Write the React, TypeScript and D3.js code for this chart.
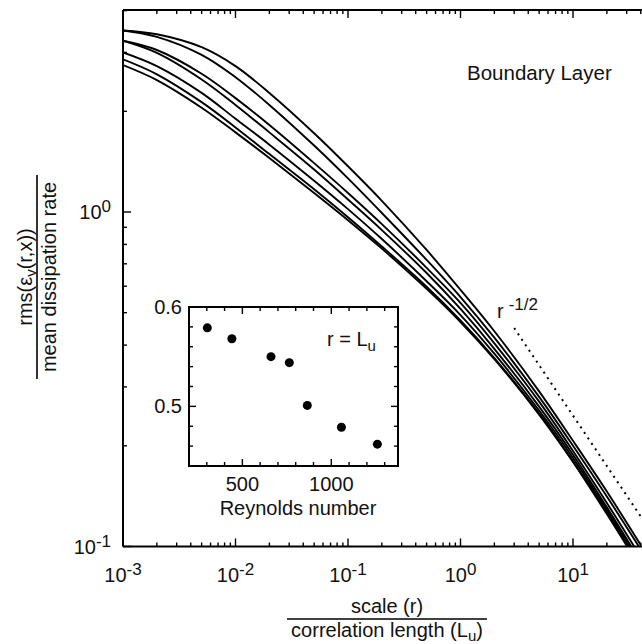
import * as d3 from 'd3';

// main panel: scale r / L_u  vs  rms / mean dissipation, one curve per Reynolds number
const scaleR = [0.001, 0.002, 0.005, 0.01, 0.02, 0.05, 0.1, 0.2, 0.5, 1, 2, 5, 10, 20, 40];
const curveA = [3.49, 3.40, 3.11, 2.73, 2.27, 1.72, 1.37, 1.08, 0.770, 0.585, 0.440, 0.291, 0.207, 0.146, 0.101];
const curveB = [3.49, 3.34, 2.95, 2.53, 2.09, 1.58, 1.26, 0.993, 0.719, 0.557, 0.421, 0.280, 0.200, 0.141, 0.098];
const curveC = [3.25, 3.05, 2.59, 2.19, 1.82, 1.40, 1.14, 0.920, 0.681, 0.535, 0.405, 0.271, 0.193, 0.135, 0.093];
const curveD = [3.25, 2.99, 2.49, 2.09, 1.73, 1.34, 1.09, 0.883, 0.657, 0.513, 0.390, 0.262, 0.188, 0.131, 0.090];
const curveE = [3.00, 2.73, 2.27, 1.90, 1.59, 1.24, 1.02, 0.830, 0.621, 0.492, 0.377, 0.255, 0.184, 0.129, 0.088];
const curveF = [2.86, 2.58, 2.13, 1.79, 1.49, 1.17, 0.965, 0.789, 0.598, 0.474, 0.366, 0.250, 0.180, 0.127, 0.087];
const curveG = [2.75, 2.48, 2.05, 1.73, 1.45, 1.14, 0.945, 0.777, 0.589, 0.469, 0.363, 0.248, 0.179, 0.125, 0.086];
const curves = [curveA, curveB, curveC, curveD, curveE, curveF, curveG];

// r^-1/2 reference slope
const slopeR = [3, 42];
const slopeV = [0.45, 0.12];

const xExponents = ['-3', '-2', '-1', '0', '1'];
const yExponents = ['-1', '0'];

// inset: value at r = L_u vs Reynolds number
const reynolds = [303, 441, 661, 764, 865, 1057, 1259];
const ratioAtLu = [0.579, 0.568, 0.550, 0.544, 0.501, 0.479, 0.462];
const insetXLabels = [500, 1000];
const insetYLabels = [0.5, 0.6];

const font = '"Liberation Sans", Arial, Helvetica, sans-serif';

export default function App() {
  const left = 123, top = 10, bottom = 546.5, right = 642;

  const x = d3.scaleLog().domain([1e-3, 10]).range([left, 573]);
  const y = d3.scaleLog().domain([0.1, 1]).range([bottom, 212]);

  const xTicks = d3.scaleLog().domain([1e-3, 40]).ticks();
  const yTicks = d3.scaleLog().domain([0.1, 4]).ticks();
  const isMajor = (v: number) => Math.abs(Math.log10(v) - Math.round(Math.log10(v))) < 1e-6;

  const line = d3.line<number>()
    .x((_, i) => x(scaleR[i]))
    .y(d => y(d))
    .curve(d3.curveCatmullRom.alpha(0.5));

  const slopeLine = d3.line<number>()
    .x((_, i) => x(slopeR[i]))
    .y(d => y(d));

  // inset
  const ix = d3.scaleLinear().domain([200, 1375]).range([189, 398]);
  const iy = d3.scaleLinear().domain([0.44, 0.6]).range([466, 307]);
  const ixTicks = d3.range(300, 1301, 100);
  const iyTicks = d3.range(0.46, 0.601, 0.02);

  return (
    <svg width={642} height={644} style={{ position: 'absolute', left: 0, top: 0, background: '#fff' }}
      fontFamily={font} fill="#111">
      <defs>
        <clipPath id="plot-clip">
          <rect x={left} y={top} width={right - left + 10} height={bottom - top} />
        </clipPath>
      </defs>

      {/* curves */}
      <g clipPath="url(#plot-clip)" fill="none" stroke="#000" strokeWidth={1.9}>
        {curves.map((c, i) => <path key={i} d={line(c) ?? ''} />)}
        <path d={slopeLine(slopeV) ?? ''} strokeWidth={2} strokeDasharray="2 4.6" />
      </g>

      {/* frame */}
      <g stroke="#000" strokeWidth={2} fill="none">
        <line x1={left} x2={left} y1={top} y2={bottom} />
        <line x1={left} x2={right} y1={top} y2={top} />
        <line x1={left} x2={right} y1={bottom} y2={bottom} />
      </g>

      {/* ticks */}
      <g stroke="#000" strokeWidth={1.4}>
        {xTicks.map((t, i) => {
          const len = isMajor(t) ? 8 : 4;
          return (
            <g key={i}>
              <line x1={x(t)} x2={x(t)} y1={bottom} y2={bottom - len} />
              <line x1={x(t)} x2={x(t)} y1={top} y2={top + len} />
            </g>
          );
        })}
        {yTicks.map((t, i) => {
          const len = isMajor(t) ? 8 : 4;
          return <line key={i} x1={left} x2={left + len} y1={y(t)} y2={y(t)} />;
        })}
      </g>

      {/* tick labels */}
      <g fontSize={20}>
        {xExponents.map(e => (
          <text key={e} x={x(Math.pow(10, +e))} y={582} textAnchor="middle">
            10<tspan dy={-7} fontSize={17}>{e}</tspan>
          </text>
        ))}
        {yExponents.map(e => (
          <text key={e} x={111} y={y(Math.pow(10, +e)) + 7} textAnchor="end">
            10<tspan dy={-7} fontSize={17}>{e}</tspan>
          </text>
        ))}
      </g>

      {/* x title */}
      <text x={387} y={613} textAnchor="middle" fontSize={20}>scale (r)</text>
      <line x1={287} x2={487} y1={619} y2={619} stroke="#000" strokeWidth={1.6} />
      <text x={387} y={637} textAnchor="middle" fontSize={20}>
        correlation length (L<tspan dy={4} fontSize={15}>u</tspan><tspan dy={-4}>)</tspan>
      </text>

      {/* y title */}
      <g transform="translate(37,277) rotate(-90)">
        <text x={0} y={-5} textAnchor="middle" fontSize={20}>
          rms(ε<tspan dy={4} fontSize={15}>v</tspan><tspan dy={-4}>(r,x))</tspan>
        </text>
        <line x1={-102} x2={102} y1={0} y2={0} stroke="#000" strokeWidth={1.6} />
        <text x={0} y={19} textAnchor="middle" fontSize={20}>mean dissipation rate</text>
      </g>

      <text x={467} y={80} fontSize={20.5}>Boundary Layer</text>
      <text x={497} y={318} fontSize={20}>
        r<tspan dx={5} dy={-8} fontSize={17}>-1/2</tspan>
      </text>

      {/* inset */}
      <g>
        <rect x={189} y={307} width={209} height={159} fill="#fff" stroke="#000" strokeWidth={2} />
        <g stroke="#000" strokeWidth={1.4}>
          {ixTicks.map(t => {
            const len = t % 500 === 0 ? 7 : 4;
            return (
              <g key={t}>
                <line x1={ix(t)} x2={ix(t)} y1={466} y2={466 - len} />
                <line x1={ix(t)} x2={ix(t)} y1={307} y2={307 + len} />
              </g>
            );
          })}
          {iyTicks.map((t, i) => {
            const len = Math.abs(t - 0.5) < 1e-6 || Math.abs(t - 0.6) < 1e-6 ? 7 : 4;
            return (
              <g key={i}>
                <line x1={189} x2={189 + len} y1={iy(t)} y2={iy(t)} />
                <line x1={398} x2={398 - len} y1={iy(t)} y2={iy(t)} />
              </g>
            );
          })}
        </g>
        {reynolds.map((re, i) => (
          <circle key={re} cx={ix(re)} cy={iy(ratioAtLu[i])} r={4.5} fill="#000" />
        ))}
        <g fontSize={20}>
          {insetXLabels.map(t => (
            <text key={t} x={ix(t)} y={491} textAnchor="middle">{t}</text>
          ))}
          {insetYLabels.map(t => (
            <text key={t} x={182} y={iy(t) + 7} textAnchor="end">{t.toFixed(1)}</text>
          ))}
          <text x={298} y={515} textAnchor="middle">Reynolds number</text>
          <text x={327} y={346}>
            r = L<tspan dy={5} fontSize={15}>u</tspan>
          </text>
        </g>
      </g>
    </svg>
  );
}
